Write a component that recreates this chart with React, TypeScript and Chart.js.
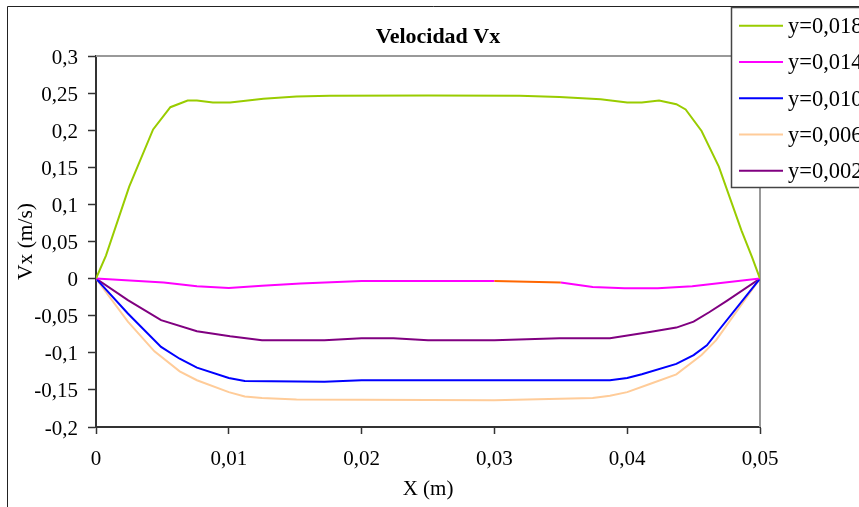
import { useEffect, useRef } from "react";
import { Chart, registerables } from "chart.js";

Chart.register(...registerables);

// ---- data ----
const seriesLabels = ["y=0,018", "y=0,014", "y=0,010", "y=0,006", "y=0,002"];
const seriesColors = ["#99CC00", "#FF00FF", "#0000FF", "#FFCC99", "#800080"];
const highlightColor = "#FF6600";
const highlightFromX = 0.03; // y=0,014 segment starting here is drawn orange

const x018 = [0, 0.00075, 0.0025, 0.0043, 0.0056, 0.0069, 0.0076, 0.0088, 0.0101, 0.0126, 0.0151, 0.0176, 0.025, 0.0319, 0.0349, 0.038, 0.04, 0.0411, 0.0424, 0.0437, 0.0444, 0.0456, 0.0469, 0.0486, 0.0494, 0.05];
const y018 = [0, 0.031, 0.124, 0.201, 0.231, 0.24, 0.24, 0.2375, 0.2375, 0.2424, 0.2454, 0.2465, 0.2467, 0.2465, 0.2447, 0.2416, 0.2375, 0.2375, 0.24, 0.235, 0.228, 0.199, 0.151, 0.065, 0.029, 0];

const x014 = [0, 0.0051, 0.0076, 0.01, 0.0125, 0.0154, 0.02, 0.03, 0.035, 0.0374, 0.0398, 0.0423, 0.0449, 0.05];
const y014 = [0, -0.0053, -0.0103, -0.0125, -0.0098, -0.0066, -0.0031, -0.0031, -0.0053, -0.0112, -0.013, -0.013, -0.0103, 0];

const x010 = [0, 0.0024, 0.0049, 0.0063, 0.0076, 0.01, 0.0112, 0.0172, 0.02, 0.0387, 0.04, 0.0411, 0.0437, 0.045, 0.046, 0.0467, 0.05];
const y010 = [0, -0.047, -0.092, -0.108, -0.12, -0.134, -0.138, -0.139, -0.137, -0.137, -0.134, -0.129, -0.115, -0.103, -0.09, -0.074, 0];

const x006 = [0, 0.0024, 0.0044, 0.0063, 0.0076, 0.01, 0.0112, 0.0125, 0.0151, 0.03, 0.0374, 0.0387, 0.04, 0.0417, 0.0437, 0.0456, 0.0467, 0.05];
const y006 = [0, -0.058, -0.098, -0.125, -0.137, -0.153, -0.159, -0.161, -0.163, -0.164, -0.161, -0.158, -0.153, -0.142, -0.129, -0.103, -0.083, 0];

const x002 = [0, 0.0024, 0.0049, 0.0076, 0.0101, 0.0125, 0.0172, 0.02, 0.0224, 0.025, 0.03, 0.0349, 0.0387, 0.0417, 0.0437, 0.045, 0.0462, 0.0475, 0.05];
const y002 = [0, -0.029, -0.056, -0.071, -0.0777, -0.083, -0.083, -0.0805, -0.0805, -0.083, -0.083, -0.0805, -0.0805, -0.072, -0.066, -0.058, -0.045, -0.03, 0];

const seriesX = [x018, x014, x010, x006, x002];
const seriesY = [y018, y014, y010, y006, y002];

const titleText = "Velocidad Vx";
const xTitle = "X (m)";
const yTitle = "Vx (m/s)";
const xMin = 0, xMax = 0.05, xStep = 0.01;
const yMin = -0.2, yMax = 0.3, yStep = 0.05;

const FONT = '"Liberation Serif", "Times New Roman", serif';

const fmt = (v: number) => String(Math.round(v * 1000) / 1000).replace(".", ",");

const framePlugin = {
  id: "excelFrame",
  beforeDatasetsDraw(chart: any) {
    const { ctx, chartArea: a } = chart;
    ctx.save();
    // outer chart frame (left + top visible)
    ctx.strokeStyle = "#222";
    ctx.lineWidth = 1;
    ctx.beginPath();
    ctx.moveTo(7.5, chart.height + 2);
    ctx.lineTo(7.5, 6.5);
    ctx.lineTo(chart.width + 2, 6.5);
    ctx.stroke();
    // plot area top/right border
    ctx.strokeStyle = "#999";
    ctx.lineWidth = 2;
    ctx.beginPath();
    ctx.moveTo(a.left, a.top);
    ctx.lineTo(a.right, a.top);
    ctx.lineTo(a.right, a.bottom);
    ctx.stroke();
    ctx.restore();
  },
  afterDraw(chart: any) {
    const { ctx, chartArea: a } = chart;
    ctx.save();
    // title
    ctx.fillStyle = "#000";
    ctx.font = `bold 22px ${FONT}`;
    ctx.textAlign = "center";
    ctx.textBaseline = "alphabetic";
    ctx.fillText(titleText, 438, 43);
    // x axis title
    ctx.font = `21px ${FONT}`;
    ctx.fillText(xTitle, (a.left + a.right) / 2, 495);
    // y axis title
    ctx.save();
    ctx.font = `21.5px ${FONT}`;
    ctx.translate(32, 241.5);
    ctx.rotate(-Math.PI / 2);
    ctx.fillText(yTitle, 0, 0);
    ctx.restore();
    // legend box
    ctx.fillStyle = "#fff";
    ctx.fillRect(731.5, 7.5, 200, 180);
    ctx.strokeStyle = "#444";
    ctx.lineWidth = 1.5;
    ctx.strokeRect(731.5, 7.5, 200, 180);
    chart.data.datasets.forEach((ds: any, i: number) => {
      const ry = 25.7 + i * 36.25;
      ctx.strokeStyle = ds.borderColor;
      ctx.lineWidth = 2;
      ctx.beginPath();
      ctx.moveTo(739, ry);
      ctx.lineTo(783, ry);
      ctx.stroke();
      ctx.fillStyle = "#000";
      ctx.font = `22.5px ${FONT}`;
      ctx.textAlign = "left";
      ctx.textBaseline = "alphabetic";
      ctx.fillText(ds.label, 788, ry + 7.5);
    });
    ctx.restore();
  },
};

export default function App() {
  const ref = useRef<HTMLCanvasElement | null>(null);

  useEffect(() => {
    if (!ref.current) return;
    const datasets = seriesLabels.map((label, i) => {
      const xs = seriesX[i];
      const data = xs.map((x, j) => ({ x, y: seriesY[i][j] }));
      const hiIdx = i === 1 ? xs.indexOf(highlightFromX) : -1;
      return {
        label,
        data,
        borderColor: seriesColors[i],
        backgroundColor: seriesColors[i],
        borderWidth: 2,
        pointRadius: 0,
        tension: 0,
        fill: false,
        segment: {
          borderColor: (c: any) => (c.p0DataIndex === hiIdx ? highlightColor : undefined),
        },
      };
    });

    const chart = new Chart(ref.current, {
      type: "line",
      data: { datasets },
      options: {
        responsive: false,
        animation: false,
        devicePixelRatio: 1,
        layout: { padding: { top: 56, right: 99, left: 0, bottom: 0 } },
        plugins: { legend: { display: false }, title: { display: false }, tooltip: { enabled: false } },
        scales: {
          x: {
            type: "linear",
            min: xMin,
            max: xMax,
            afterFit: (s: any) => { s.height = 80; },
            border: { color: "#333", width: 2 },
            grid: { drawOnChartArea: false, drawTicks: true, tickLength: 7, tickColor: "#333", tickWidth: 1.5 },
            ticks: {
              stepSize: xStep,
              autoSkip: false,
              maxRotation: 0,
              padding: 13,
              color: "#000",
              font: { family: FONT, size: 21 },
              callback: (v: any) => fmt(Number(v)),
            },
          },
          y: {
            type: "linear",
            min: yMin,
            max: yMax,
            afterFit: (s: any) => { s.width = 96; },
            border: { color: "#333", width: 2 },
            grid: { drawOnChartArea: false, drawTicks: true, tickLength: 8, tickColor: "#333", tickWidth: 1.5 },
            ticks: {
              stepSize: yStep,
              autoSkip: false,
              padding: 10,
              labelOffset: 2,
              color: "#000",
              font: { family: FONT, size: 21 },
              callback: (v: any) => fmt(Number(v)),
            },
          },
        },
      },
      plugins: [framePlugin],
    } as any);
    return () => chart.destroy();
  }, []);

  return (
    <div style={{ position: "absolute", left: 0, top: 0, width: 859, height: 507, background: "#fff" }}>
      <canvas ref={ref} width={859} height={507} style={{ display: "block", width: 859, height: 507 }} />
    </div>
  );
}
